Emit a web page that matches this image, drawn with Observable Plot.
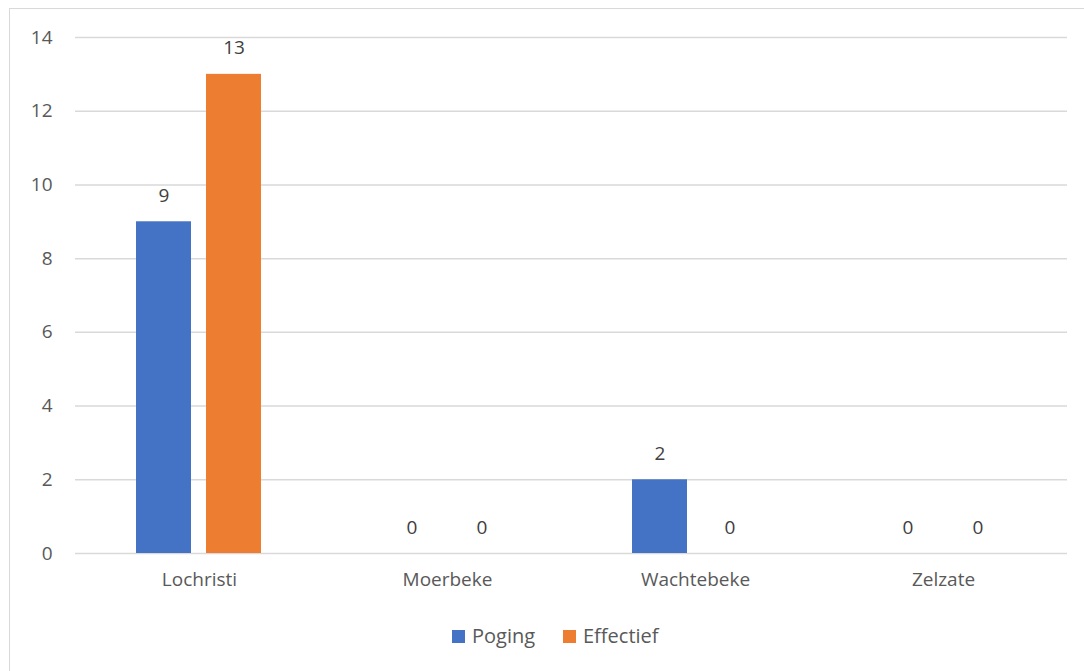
<!DOCTYPE html>
<html>
<head>
<meta charset="utf-8">
<script src="https://cdn.jsdelivr.net/npm/d3@7"></script>
<script src="https://cdn.jsdelivr.net/npm/@observablehq/plot@0.6"></script>
<style>
  html, body { margin: 0; padding: 0; background: #fff; }
  #wrap { position: relative; width: 1084px; height: 671px; overflow: hidden; font-family: "Open Sans", sans-serif; }
  #frame { position: absolute; left: 9px; top: 8px; width: 1090px; height: 700px; border: 1px solid #d9d9d9; box-sizing: border-box; }
  #chart { position: absolute; left: 0; top: 0; }
  #legend { position: absolute; top: 622px; left: 452px; height: 28px; font-size: 20px; color: #595959; }
  .sw { position: absolute; top: 8px; width: 13px; height: 13px; }
  .lbl { position: absolute; top: 0; white-space: nowrap; line-height: 28px; }
</style>
</head>
<body>
<div id="wrap">
  <div id="frame"></div>
  <div id="chart"></div>
  <div id="legend"></div>
</div>
<script>
const categories = ["Lochristi", "Moerbeke", "Wachtebeke", "Zelzate"];
const series = ["Poging", "Effectief"];
const poging = [9, 0, 2, 0];
const effectief = [13, 0, 0, 0];
const colors = ["#4472C4", "#ED7D31"];
const yTicks = [0, 2, 4, 6, 8, 10, 12, 14];

const data = [];
categories.forEach((c, i) => {
  data.push({category: c, series: "Poging", value: poging[i]});
  data.push({category: c, series: "Effectief", value: effectief[i]});
});

const chart = Plot.plot({
  width: 1084,
  height: 603,
  marginLeft: 73,
  marginRight: 16,
  marginTop: 37,
  marginBottom: 50,
  style: {fontFamily: "'Open Sans', sans-serif", fontSize: "19px", color: "#595959", background: "transparent"},
  fx: {domain: categories, padding: 0, label: null, axis: null},
  x: {domain: series, paddingInner: 0.21, paddingOuter: 0.86, axis: null},
  y: {domain: [0, 14], ticks: yTicks, label: null, axis: null},
  color: {domain: series, range: colors},
  marks: [
    Plot.gridY(yTicks, {stroke: "#d9d9d9", strokeOpacity: 1, strokeWidth: 1.5}),
    Plot.axisY(yTicks, {tickSize: 0, tickPadding: 23, fontSize: 19, fill: "#595959", label: null, tickFormat: d => String(d)}),
    Plot.axisFx({anchor: "bottom", tickSize: 0, tickPadding: 19, fontSize: 19, fill: "#595959", label: null}),
    Plot.barY(data, {fx: "category", x: "series", y: "value", fill: "series"}),
    Plot.text(data, {fx: "category", x: "series", y: "value", text: d => String(d.value), dy: -26, fill: "#404040", fontSize: 19})
  ]
});
document.getElementById("chart").appendChild(chart);

const legend = document.getElementById("legend");
const offsets = [0, 111];
series.forEach((s, i) => {
  const sw = document.createElement("span");
  sw.className = "sw";
  sw.style.left = offsets[i] + "px";
  sw.style.background = colors[i];
  legend.appendChild(sw);
  const t = document.createElement("span");
  t.className = "lbl";
  t.style.left = (offsets[i] + 20) + "px";
  t.textContent = s;
  legend.appendChild(t);
});
</script>
</body>
</html>
